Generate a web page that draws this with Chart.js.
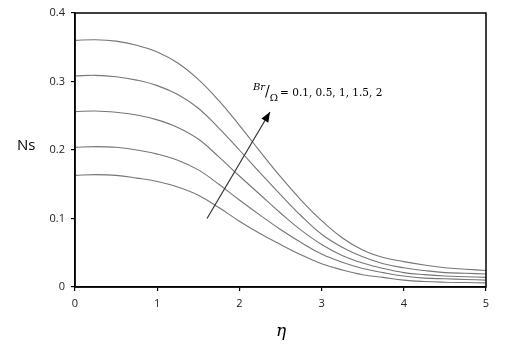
<!DOCTYPE html>
<html>
<head>
<meta charset="utf-8">
<script src="https://cdn.jsdelivr.net/npm/chart.js@4"></script>
<style>
  html, body { margin: 0; padding: 0; background: #fff; }
  #wrap { width: 507px; height: 352px; }
</style>
</head>
<body>
<div id="wrap"><canvas id="nsChart" width="507" height="352"></canvas></div>
<script>
// eta positions
const eta = [0, 0.25, 0.5, 0.75, 1, 1.25, 1.5, 1.75, 2, 2.25, 2.5, 2.75, 3, 3.25, 3.5, 3.75, 4, 4.25, 4.5, 4.75, 5];

// Ns for Br/Omega = 2, 1.5, 1, 0.5, 0.1 (top to bottom)
const ns_2   = [0.360, 0.361, 0.359, 0.353, 0.343, 0.327, 0.303, 0.272, 0.236, 0.198, 0.161, 0.127, 0.097, 0.072, 0.054, 0.043, 0.037, 0.032, 0.028, 0.026, 0.024];
const ns_1_5 = [0.308, 0.309, 0.307, 0.302, 0.294, 0.281, 0.261, 0.232, 0.200, 0.167, 0.135, 0.104, 0.077, 0.058, 0.044, 0.034, 0.028, 0.024, 0.021, 0.020, 0.019];
const ns_1   = [0.256, 0.257, 0.255, 0.251, 0.244, 0.233, 0.216, 0.190, 0.162, 0.135, 0.108, 0.083, 0.062, 0.046, 0.035, 0.027, 0.021, 0.018, 0.016, 0.015, 0.014];
const ns_0_5 = [0.204, 0.205, 0.204, 0.200, 0.194, 0.185, 0.171, 0.150, 0.127, 0.105, 0.084, 0.065, 0.048, 0.036, 0.027, 0.021, 0.016, 0.013, 0.012, 0.011, 0.010];
const ns_0_1 = [0.163, 0.164, 0.163, 0.159, 0.154, 0.146, 0.134, 0.116, 0.096, 0.078, 0.062, 0.047, 0.034, 0.025, 0.018, 0.014, 0.010, 0.008, 0.007, 0.0065, 0.006];

const xTicks = ['0', '1', '2', '3', '4', '5'];
const yTicks = ['0', '0.1', '0.2', '0.3', '0.4'];

const lineColor = '#767676';
const seriesList = [ns_2, ns_1_5, ns_1, ns_0_5, ns_0_1];

const datasets = seriesList.map((vals) => ({
    data: eta.map((x, i) => ({ x: x, y: vals[i] })),
    borderColor: lineColor,
    borderWidth: 1.1,
    pointRadius: 0,
    fill: false,
    tension: 0.4
}));

// frame, axis titles, arrow and the Br/Omega label
const extras = {
    id: 'extras',
    afterDraw(chart) {
        const ctx = chart.ctx;
        const a = chart.chartArea;
        const xs = chart.scales.x;
        const ys = chart.scales.y;
        ctx.save();

        // box around plot
        ctx.strokeStyle = '#000';
        ctx.lineWidth = 1.5;
        ctx.strokeRect(a.left, a.top, a.right - a.left, a.bottom - a.top);

        // axis titles
        ctx.fillStyle = '#000';
        ctx.font = '15px "Open Sans", sans-serif';
        ctx.textAlign = 'left';
        ctx.textBaseline = 'middle';
        ctx.fillText('Ns', 17, 146);
        ctx.font = 'italic 17px "DejaVu Serif", serif';
        ctx.textAlign = 'center';
        ctx.fillText('η', 281, 332);

        // arrow
        const x0 = xs.getPixelForValue(1.606), y0 = ys.getPixelForValue(0.1);
        const x1 = xs.getPixelForValue(2.372), y1 = ys.getPixelForValue(0.2555);
        ctx.strokeStyle = '#333';
        ctx.lineWidth = 1.2;
        ctx.beginPath();
        ctx.moveTo(x0, y0);
        ctx.lineTo(x1, y1);
        ctx.stroke();
        const ang = Math.atan2(y1 - y0, x1 - x0);
        const hl = 10, hw = 4;
        ctx.fillStyle = '#000';
        ctx.beginPath();
        ctx.moveTo(x1, y1);
        ctx.lineTo(x1 - hl * Math.cos(ang) + hw * Math.sin(ang), y1 - hl * Math.sin(ang) - hw * Math.cos(ang));
        ctx.lineTo(x1 - hl * Math.cos(ang) - hw * Math.sin(ang), y1 - hl * Math.sin(ang) + hw * Math.cos(ang));
        ctx.closePath();
        ctx.fill();

        // label Br/Ω = ...
        let tx = xs.getPixelForValue(2.165);
        const ty = ys.getPixelForValue(0.283);
        ctx.textAlign = 'left';
        ctx.textBaseline = 'alphabetic';
        ctx.fillStyle = '#000';
        ctx.font = 'italic 10px "DejaVu Serif", serif';
        ctx.fillText('Br', tx, ty - 3);
        tx += ctx.measureText('Br').width;
        ctx.font = '14px "DejaVu Serif", serif';
        ctx.fillText('/', tx, ty + 3);
        tx += ctx.measureText('/').width;
        ctx.font = '10px "DejaVu Serif", serif';
        ctx.fillText('Ω', tx, ty + 8);
        tx += ctx.measureText('Ω').width + 2;
        ctx.font = '10.5px "DejaVu Serif", serif';
        ctx.fillText('= 0.1, 0.5, 1, 1.5, 2', tx, ty + 3);

        ctx.restore();
    }
};

new Chart(document.getElementById('nsChart').getContext('2d'), {
    type: 'line',
    data: { datasets: datasets },
    options: {
        responsive: false,
        animation: false,
        layout: { padding: { left: 0, top: 13, right: 21, bottom: 0 } },
        plugins: { legend: { display: false }, tooltip: { enabled: false } },
        scales: {
            x: {
                type: 'linear',
                min: 0,
                max: 5,
                afterFit: (s) => { s.height = 65; },
                ticks: {
                    stepSize: 1,
                    color: '#222',
                    padding: 6,
                    font: { family: '"Open Sans", sans-serif', size: 11 },
                    callback: (v) => xTicks[v] !== undefined ? xTicks[v] : ''
                },
                grid: { drawOnChartArea: false, drawTicks: true, tickLength: 4, color: '#000', lineWidth: 1.2 },
                border: { color: '#000', width: 1.5 }
            },
            y: {
                min: 0,
                max: 0.4,
                afterFit: (s) => { s.width = 75; },
                ticks: {
                    stepSize: 0.1,
                    color: '#222',
                    padding: 6,
                    font: { family: '"Open Sans", sans-serif', size: 11 },
                    callback: (v) => yTicks[Math.round(v * 10)]
                },
                grid: { drawOnChartArea: false, drawTicks: true, tickLength: 4, color: '#000', lineWidth: 1.2 },
                border: { color: '#000', width: 1.5 }
            }
        }
    },
    plugins: [extras]
});
</script>
</body>
</html>
